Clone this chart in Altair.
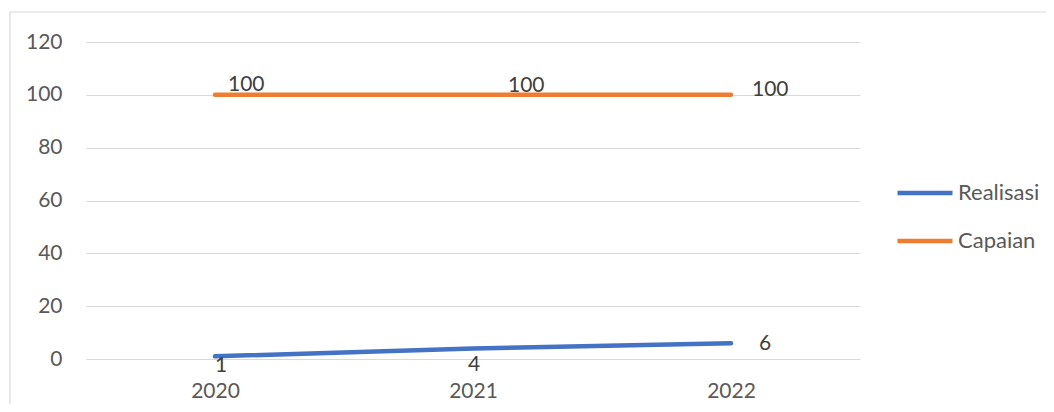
import altair as alt
import pandas as pd

years = ["2020", "2021", "2022"]
series_names = ["Realisasi", "Capaian"]
realisasi = [1, 4, 6]
capaian = [100, 100, 100]
y_ticks = [0, 20, 40, 60, 80, 100, 120]
colors = ["#4472C4", "#ED7D31"]

rows = []
for y, v in zip(years, realisasi):
    rows.append({"series": "Realisasi", "year": y, "value": v})
for y, v in zip(years, capaian):
    rows.append({"series": "Capaian", "year": y, "value": v})
df = pd.DataFrame(rows)

FONT = "Lato"
FS = 21

x_enc = alt.X("year:N", sort=years,
              scale=alt.Scale(type="point", padding=0.5),
              axis=alt.Axis(title=None, labelAngle=0, grid=False, domain=False, ticks=False,
                            labelPadding=21, labelFont=FONT, labelFontSize=FS, labelColor="#595959"))
y_enc = alt.Y("value:Q",
              scale=alt.Scale(domain=[0, 120], nice=False),
              axis=alt.Axis(title=None, values=y_ticks, grid=True, gridColor="#d9d9d9", gridWidth=1,
                            domain=False, ticks=False, labelPadding=24, labelFont=FONT,
                            labelFontSize=FS, labelColor="#595959"))

base = alt.Chart(df)

lines = base.mark_line(strokeWidth=4.5, strokeCap="round").encode(
    x=x_enc, y=y_enc,
    color=alt.Color("series:N",
                    scale=alt.Scale(domain=series_names, range=colors),
                    legend=alt.Legend(title=None, orient="none", legendX=809, legendY=141,
                                      symbolType="stroke", symbolSize=3025, symbolStrokeWidth=4.5,
                                      clipHeight=20, rowPadding=26, labelOffset=3, padding=0,
                                      labelFont=FONT, labelFontSize=22, labelColor="#595959")),
    detail="series:N",
)

label_styles = [
    ("Capaian", "2020", "left", 13, -10),
    ("Capaian", "2021", "left", 35, -9),
    ("Capaian", "2022", "left", 21, -5),
    ("Realisasi", "2020", "center", 6, 10),
    ("Realisasi", "2021", "center", 1, 17),
    ("Realisasi", "2022", "left", 28, 1),
]
texts = []
for s, yr, al, dx, dy in label_styles:
    t = base.transform_filter(
        (alt.datum.series == s) & (alt.datum.year == yr)
    ).mark_text(align=al, baseline="middle", dx=dx, dy=dy, font=FONT, fontSize=FS,
                color="#404040").encode(
        x=alt.X("year:N", sort=years), y="value:Q", text="value:Q")
    texts.append(t)

border = alt.Chart(pd.DataFrame({"a": [0]})).mark_rect(
    fill="transparent", stroke="#d9d9d9", strokeWidth=1.2).encode(
    x=alt.value(-76), x2=alt.value(1010), y=alt.value(-30), y2=alt.value(420))

chart = alt.layer(border, lines, *texts).properties(
    width=774, height=317,
    autosize=alt.AutoSizeParams(type="none"),
    padding={"left": 78, "top": 34, "right": 186, "bottom": 45},
).configure_view(strokeWidth=0)

chart.save("out.html", embed_options={"renderer": "svg", "actions": False})
